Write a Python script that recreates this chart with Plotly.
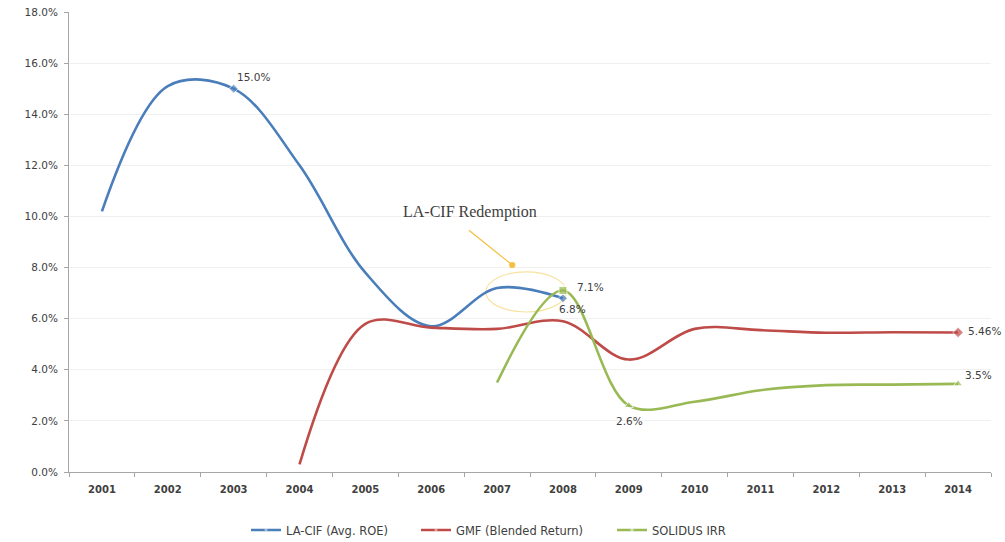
import plotly.graph_objects as go

years = [str(y) for y in range(2001, 2015)]

lacif = [10.2, 15.1, 15.0, 12.0, 7.8, 5.7, 7.2, 6.8, None, None, None, None, None, None]
gmf = [None, None, None, 0.3, 5.8, 5.65, 5.6, 5.9, 4.4, 5.6, 5.55, 5.45, 5.47, 5.46]
solidus = [None, None, None, None, None, None, 3.5, 7.1, 2.6, 2.75, 3.2, 3.4, 3.42, 3.45]

lacif_labels = ["", "", "15.0%", "", "", "", "", "6.8%", "", "", "", "", "", ""]
gmf_labels = ["", "", "", "", "", "", "", "", "", "", "", "", "", "5.46%"]
solidus_labels = ["", "", "", "", "", "", "", "7.1%", "2.6%", "", "", "", "", "3.5%"]

series_names = ["LA-CIF (Avg. ROE)", "GMF (Blended Return)", "SOLIDUS IRR"]

y_ticks = [0, 2, 4, 6, 8, 10, 12, 14, 16, 18]
y_tick_text = ["0.0%", "2.0%", "4.0%", "6.0%", "8.0%", "10.0%", "12.0%", "14.0%", "16.0%", "18.0%"]

callout_text = "LA-CIF Redemption"

BLUE = "#4A7EBB"
RED = "#BE4B48"
GREEN = "#98B954"
TXT = "#404040"
FONT = "DejaVu Sans, Verdana, sans-serif"

# label offsets (style): (xshift, yshift) in px, keyed by (series, year)
label_shift = {
    ("lacif", "2003"): (20, 12),
    ("lacif", "2008"): (10, -11),
    ("gmf", "2014"): (26, 1),
    ("solidus", "2008"): (28, 4),
    ("solidus", "2009"): (1, -15),
    ("solidus", "2014"): (20, 9),
}


def msizes(labels, s):
    return [s if t else 0 for t in labels]


fig = go.Figure()

fig.add_trace(go.Scatter(
    x=years, y=lacif, name=series_names[0], legend="legend",
    mode="lines+markers", line=dict(color=BLUE, width=2.6, shape="spline", smoothing=1.0),
    marker=dict(symbol="diamond", size=msizes(lacif_labels, 7), color=BLUE),
))
fig.add_trace(go.Scatter(
    x=years, y=gmf, name=series_names[1], legend="legend2",
    mode="lines+markers", line=dict(color=RED, width=2.6, shape="spline", smoothing=1.0),
    marker=dict(symbol="diamond", size=msizes(gmf_labels, 8), color=RED),
))
fig.add_trace(go.Scatter(
    x=years, y=solidus, name=series_names[2], legend="legend3",
    mode="lines+markers", line=dict(color=GREEN, width=2.6, shape="spline", smoothing=1.0),
    marker=dict(symbol=["square"] * 8 + ["triangle-up"] * 6,
                size=msizes(solidus_labels, 8), color=GREEN),
))

for key, vals, labels in (("lacif", lacif, lacif_labels),
                          ("gmf", gmf, gmf_labels),
                          ("solidus", solidus, solidus_labels)):
    for i, (yr, v, t) in enumerate(zip(years, vals, labels)):
        if t:
            dx, dy = label_shift.get((key, yr), (0, 10))
            fig.add_annotation(x=i, y=v, xref="x", yref="y", text=t, showarrow=False,
                               xshift=dx, yshift=dy,
                               font=dict(family=FONT, size=10.5, color=TXT))

# Callout: ellipse + arrow + text
fig.add_shape(type="circle", xref="x", yref="y",
              x0=5.83, x1=7.05, y0=6.26, y1=7.83,
              line=dict(color="#F7E3A0", width=1.2), layer="below")
fig.add_annotation(x=6.23, y=8.1, xref="x", yref="y",
                   ax=5.55, ay=9.51, axref="x", ayref="y",
                   showarrow=True, arrowhead=6, arrowsize=1.3, arrowwidth=1.2,
                   arrowcolor="#F5C040", text="")
fig.add_annotation(x=5.59, y=10.17, xref="x", yref="y", showarrow=False,
                   text=callout_text,
                   font=dict(family="Liberation Serif, Times New Roman, serif", size=16, color=TXT))

leg_common = dict(orientation="h", xref="container", yref="container",
                  xanchor="left", yanchor="middle", y=1 - 530 / 542,
                  font=dict(family=FONT, size=11.5, color=TXT),
                  itemwidth=30, bgcolor="rgba(0,0,0,0)")

fig.update_layout(
    width=1005, height=542,
    margin=dict(l=69, r=14, t=12, b=70, autoexpand=False),
    paper_bgcolor="white", plot_bgcolor="white",
    showlegend=True,
    legend=dict(x=(252 - 6) / 1005, **leg_common),
    legend2=dict(x=(422 - 6) / 1005, **leg_common),
    legend3=dict(x=(618 - 6) / 1005, **leg_common),
    font=dict(family=FONT, color=TXT),
)
fig.update_xaxes(
    type="category", categoryorder="array", categoryarray=years,
    range=[-0.5, 13.5], showline=True, linecolor="#A6A6A6", linewidth=1,
    ticks="outside", tickson="boundaries", ticklen=4, tickcolor="#A6A6A6",
    showgrid=False, zeroline=False, ticklabelstandoff=8,
    tickfont=dict(size=10, color=TXT, family="DejaVu Sans, Verdana", weight="bold"),
)
fig.update_yaxes(
    range=[0, 18], tickvals=y_ticks, ticktext=y_tick_text,
    showline=True, linecolor="#A6A6A6", linewidth=1,
    ticks="outside", ticklen=4, tickcolor="#A6A6A6",
    showgrid=True, gridcolor="#F0F0F0", gridwidth=1, zeroline=False,
    ticklabelstandoff=4,
    tickfont=dict(size=10.5, color=TXT, family=FONT),
)

fig.write_html("out.html")
